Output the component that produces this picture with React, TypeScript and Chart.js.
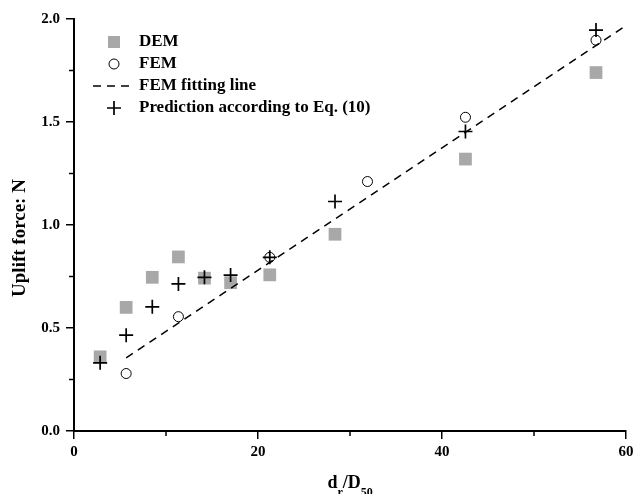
import React, { useEffect, useRef } from "react";
import { Chart, registerables } from "chart.js";

Chart.register(...registerables);

// ---- Data ----
const demX = [2.84, 5.67, 8.51, 11.35, 14.18, 17.02, 21.28, 28.37, 42.55, 56.74];
const demY = [0.36, 0.6, 0.746, 0.845, 0.742, 0.72, 0.758, 0.955, 1.32, 1.74];

const femX = [5.67, 11.35, 21.28, 31.9, 42.55, 56.74];
const femY = [0.279, 0.555, 0.843, 1.211, 1.523, 1.897];

const fitX = [5.67, 60];
const fitY = [0.355, 1.968];

const predX = [2.84, 5.67, 8.51, 11.35, 14.18, 17.02, 21.28, 28.37, 42.55, 56.74];
const predY = [0.331, 0.465, 0.603, 0.714, 0.746, 0.757, 0.843, 1.114, 1.454, 1.946];

const xMajorTicks = [0, 20, 40, 60];
const yMajorTicks = [0, 0.5, 1.0, 1.5, 2.0];

const legendLabels = ["DEM", "FEM", "FEM fitting line", "Prediction according to Eq. (10)"];
const yTitle = "Uplift force: N";

const SERIF = "'Liberation Serif', 'Times New Roman', serif";
const GRAY = "#a8a8a8";

const toPts = (xs: number[], ys: number[]) => xs.map((x, i) => ({ x, y: ys[i] }));
const isMajor = (v: number, list: number[]) => list.some((m) => Math.abs(m - v) < 1e-6);

const decorPlugin = {
  id: "decor",
  afterDraw(chart: any) {
    const ctx = chart.ctx as CanvasRenderingContext2D;
    const xs = chart.scales.x;
    const ys = chart.scales.y;
    const area = chart.chartArea;
    ctx.save();
    // minor ticks
    ctx.strokeStyle = "#000";
    ctx.lineWidth = 1.5;
    [10, 30, 50].forEach((v) => {
      const px = xs.getPixelForValue(v);
      ctx.beginPath();
      ctx.moveTo(px, area.bottom);
      ctx.lineTo(px, area.bottom + 5);
      ctx.stroke();
    });
    [0.25, 0.75, 1.25, 1.75].forEach((v) => {
      const py = ys.getPixelForValue(v);
      ctx.beginPath();
      ctx.moveTo(area.left, py);
      ctx.lineTo(area.left - 5, py);
      ctx.stroke();
    });

    // legend
    const lx = area.left + 40;
    const tx = area.left + 65;
    const ly0 = area.top + 23;
    const step = 22;
    ctx.font = `bold 17px ${SERIF}`;
    ctx.fillStyle = "#000";
    ctx.textBaseline = "middle";
    ctx.textAlign = "left";
    legendLabels.forEach((t, i) => ctx.fillText(t, tx, ly0 + i * step));
    // DEM marker
    ctx.fillStyle = GRAY;
    ctx.fillRect(lx - 6, ly0 - 6, 12, 12);
    // FEM marker
    ctx.beginPath();
    ctx.arc(lx, ly0 + step, 5, 0, Math.PI * 2);
    ctx.fillStyle = "#fff";
    ctx.fill();
    ctx.lineWidth = 1;
    ctx.strokeStyle = "#000";
    ctx.stroke();
    // fit line marker
    ctx.beginPath();
    ctx.setLineDash([8, 6]);
    ctx.lineWidth = 1.5;
    ctx.moveTo(lx - 21, ly0 + 2 * step);
    ctx.lineTo(lx + 20, ly0 + 2 * step);
    ctx.stroke();
    ctx.setLineDash([]);
    // plus marker
    ctx.beginPath();
    ctx.lineWidth = 1.7;
    ctx.moveTo(lx - 7, ly0 + 3 * step);
    ctx.lineTo(lx + 7, ly0 + 3 * step);
    ctx.moveTo(lx, ly0 + 3 * step - 7);
    ctx.lineTo(lx, ly0 + 3 * step + 7);
    ctx.stroke();

    // y title
    ctx.save();
    ctx.translate(20, (area.top + area.bottom) / 2 + 13);
    ctx.rotate(-Math.PI / 2);
    ctx.font = `bold 19px ${SERIF}`;
    ctx.fillStyle = "#000";
    ctx.textAlign = "center";
    ctx.textBaseline = "middle";
    ctx.fillText(yTitle, 0, 0);
    ctx.restore();

    // x title: d_r/D_50
    ctx.fillStyle = "#000";
    ctx.textAlign = "left";
    ctx.textBaseline = "alphabetic";
    const big = `bold 18px ${SERIF}`;
    const small = `bold 12px ${SERIF}`;
    let x = 327.5;
    const base = 488;
    const subBase = 496;
    ctx.font = big;
    ctx.fillText("d", x, base);
    x += ctx.measureText("d").width;
    ctx.font = small;
    ctx.fillText("r", x, subBase);
    x += ctx.measureText("r").width;
    ctx.font = big;
    ctx.fillText("/D", x, base);
    x += ctx.measureText("/D").width;
    ctx.font = small;
    ctx.fillText("50", x, subBase);

    ctx.restore();
  },
};

export default function App() {
  const ref = useRef<HTMLCanvasElement | null>(null);

  useEffect(() => {
    if (!ref.current) return;
    const chart = new Chart(ref.current, {
      type: "scatter",
      data: {
        datasets: [
          {
            label: legendLabels[3],
            data: toPts(predX, predY),
            pointStyle: "cross",
            pointRadius: 7,
            pointBorderWidth: 1.7,
            borderColor: "#000",
            backgroundColor: "#000",
            showLine: false,
            order: 0,
          } as any,
          {
            label: legendLabels[2],
            data: toPts(fitX, fitY),
            showLine: true,
            borderColor: "#000",
            borderWidth: 1.5,
            borderDash: [8, 6],
            pointRadius: 0,
            fill: false,
            order: 1,
          },
          {
            label: legendLabels[1],
            data: toPts(femX, femY),
            pointStyle: "circle",
            pointRadius: 5,
            pointBorderWidth: 1,
            borderColor: "#000",
            backgroundColor: "#fff",
            order: 2,
          },
          {
            label: legendLabels[0],
            data: toPts(demX, demY),
            pointStyle: "rect",
            pointRadius: 9,
            pointBorderWidth: 0,
            borderColor: GRAY,
            backgroundColor: GRAY,
            order: 3,
          },
        ],
      },
      options: {
        animation: false,
        responsive: true,
        maintainAspectRatio: false,
        layout: { padding: { top: 19, right: 8, left: 0, bottom: 0 } },
        plugins: {
          legend: { display: false },
          tooltip: { enabled: false },
          title: { display: false },
        },
        scales: {
          x: {
            type: "linear",
            min: 0,
            max: 60,
            afterFit: (s: any) => {
              s.height = 63;
              s.paddingRight = 0;
              s.paddingLeft = 0;
            },
            ticks: {
              stepSize: 20,
              autoSkip: false,
              maxRotation: 0,
              padding: 4,
              color: "#000",
              font: { family: SERIF, size: 15, weight: "bold" },
              callback: (v: any) => (isMajor(Number(v), xMajorTicks) ? String(v) : ""),
            },
            grid: {
              drawOnChartArea: false,
              drawTicks: true,
              tickLength: 8,
              lineWidth: 1.5,
              color: "#000",
            },
            border: { display: true, color: "#000", width: 2 },
          },
          y: {
            type: "linear",
            min: 0,
            max: 2,
            afterFit: (s: any) => {
              s.width = 74;
            },
            ticks: {
              stepSize: 0.5,
              autoSkip: false,
              padding: 6,
              color: "#000",
              font: { family: SERIF, size: 15, weight: "bold" },
              callback: (v: any) => (isMajor(Number(v), yMajorTicks) ? Number(v).toFixed(1) : ""),
            },
            grid: {
              drawOnChartArea: false,
              drawTicks: true,
              tickLength: 8,
              lineWidth: 1.5,
              color: "#000",
            },
            border: { display: true, color: "#000", width: 2 },
          },
        },
      },
      plugins: [decorPlugin],
    });
    return () => chart.destroy();
  }, []);

  return (
    <div style={{ position: "fixed", left: 0, top: 0, width: 635, height: 494, background: "#fff" }}>
      <canvas ref={ref} />
    </div>
  );
}
